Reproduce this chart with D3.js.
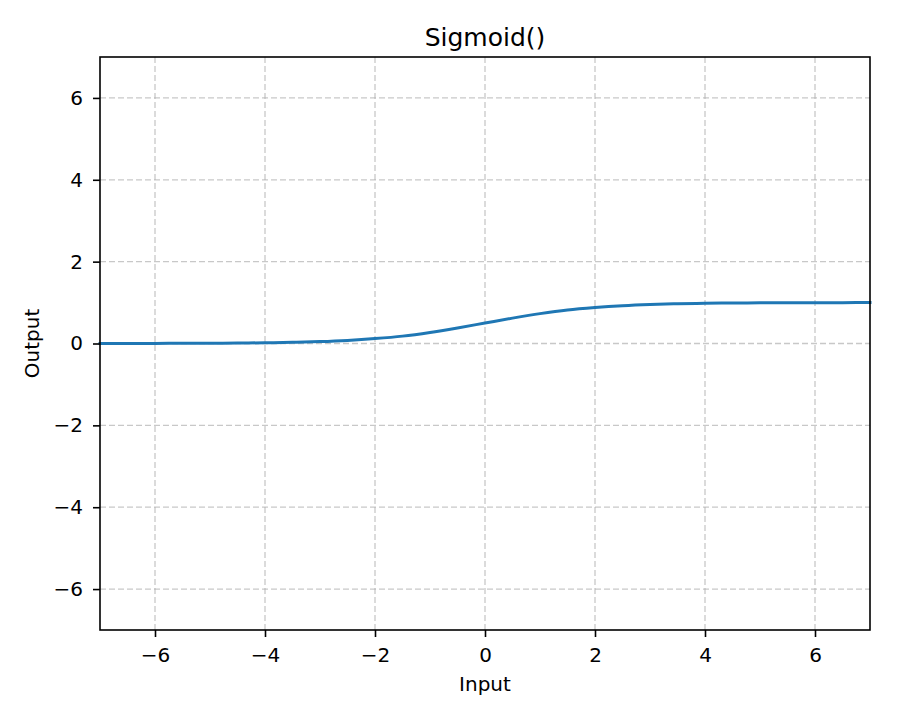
<!DOCTYPE html>
<html>
<head>
<meta charset="utf-8">
<script src="https://cdn.jsdelivr.net/npm/d3@7"></script>
<style>
  html, body { margin: 0; padding: 0; background: #fff; }
  svg { display: block; }
  text { font-family: "DejaVu Sans", sans-serif; fill: #000; }
</style>
</head>
<body>
<svg id="chart" width="906" height="707"></svg>
<script>
// Data
const inputs  = [-7, -6.5, -6, -5.5, -5, -4.5, -4, -3.5, -3, -2.5, -2, -1.5, -1, -0.5, 0, 0.5, 1, 1.5, 2, 2.5, 3, 3.5, 4, 4.5, 5, 5.5, 6, 6.5, 7];
const outputs = [0.001, 0.0015, 0.0025, 0.004, 0.007, 0.011, 0.018, 0.029, 0.047, 0.076, 0.12, 0.18, 0.27, 0.38, 0.5, 0.62, 0.73, 0.82, 0.88, 0.924, 0.953, 0.971, 0.982, 0.989, 0.993, 0.996, 0.9975, 0.9985, 0.999];
const xTicks = [-6, -4, -2, 0, 2, 4, 6];
const yTicks = [-6, -4, -2, 0, 2, 4, 6];
const titleText = "Sigmoid()";
const xLabel = "Input";
const yLabel = "Output";

(function () {
const svg = d3.select("#chart");
const mL = 100, mR = 870, mT = 57, mB = 630;

const x = d3.scaleLinear().domain([-7, 7]).range([mL, mR]);
const y = d3.scaleLinear().domain([-7, 7]).range([mB, mT]);

// Grid
const gridStyle = sel => sel
  .attr("stroke", "#b0b0b0").attr("stroke-opacity", 0.7)
  .attr("stroke-width", 1.3).attr("stroke-dasharray", "6,3");
const grid = svg.append("g");
grid.selectAll("line.vx").data(xTicks).join("line")
  .attr("class", "vx")
  .attr("x1", d => x(d)).attr("x2", d => x(d))
  .attr("y1", mT).attr("y2", mB)
  .call(gridStyle);
grid.selectAll("line.hy").data(yTicks).join("line")
  .attr("class", "hy")
  .attr("x1", mL).attr("x2", mR)
  .attr("y1", d => y(d)).attr("y2", d => y(d))
  .call(gridStyle);

// Line
const pts = inputs.map((v, i) => [v, outputs[i]]);
const line = d3.line().x(d => x(d[0])).y(d => y(d[1])).curve(d3.curveMonotoneX);
svg.append("path").datum(pts)
  .attr("d", line)
  .attr("fill", "none")
  .attr("stroke", "#1f77b4")
  .attr("stroke-width", 3)
  .attr("stroke-linecap", "square");

// Axes
const fmt = d => d3.format("d")(d);
const xAxis = d3.axisBottom(x).tickValues(xTicks).tickSize(7).tickPadding(11).tickFormat(fmt);
const yAxis = d3.axisLeft(y).tickValues(yTicks).tickSize(7).tickPadding(10).tickFormat(fmt);

const gx = svg.append("g").attr("transform", `translate(0,${mB})`).call(xAxis);
const gy = svg.append("g").attr("transform", `translate(${mL},0)`).call(yAxis);
[gx, gy].forEach(g => {
  g.select(".domain").remove();
  g.selectAll(".tick line").attr("stroke", "#000").attr("stroke-width", 1.6);
  g.selectAll(".tick text").style("font-family", "DejaVu Sans, sans-serif").style("font-size", "20px").attr("fill", "#222");
});

// Frame
svg.append("rect")
  .attr("x", mL).attr("y", mT)
  .attr("width", mR - mL).attr("height", mB - mT)
  .attr("fill", "none").attr("stroke", "#000").attr("stroke-width", 1.6);

// Title and labels
svg.append("text")
  .attr("x", (mL + mR) / 2).attr("y", 46)
  .attr("text-anchor", "middle")
  .style("font-size", "25px")
  .attr("fill", "#222")
  .text(titleText);

svg.append("text")
  .attr("x", (mL + mR) / 2).attr("y", 691)
  .attr("text-anchor", "middle")
  .style("font-size", "20px")
  .attr("fill", "#222")
  .text(xLabel);

svg.append("text")
  .attr("transform", `translate(39,${(mT + mB) / 2}) rotate(-90)`)
  .attr("text-anchor", "middle")
  .style("font-size", "20px")
  .attr("fill", "#222")
  .text(yLabel);
})();
</script>
</body>
</html>
